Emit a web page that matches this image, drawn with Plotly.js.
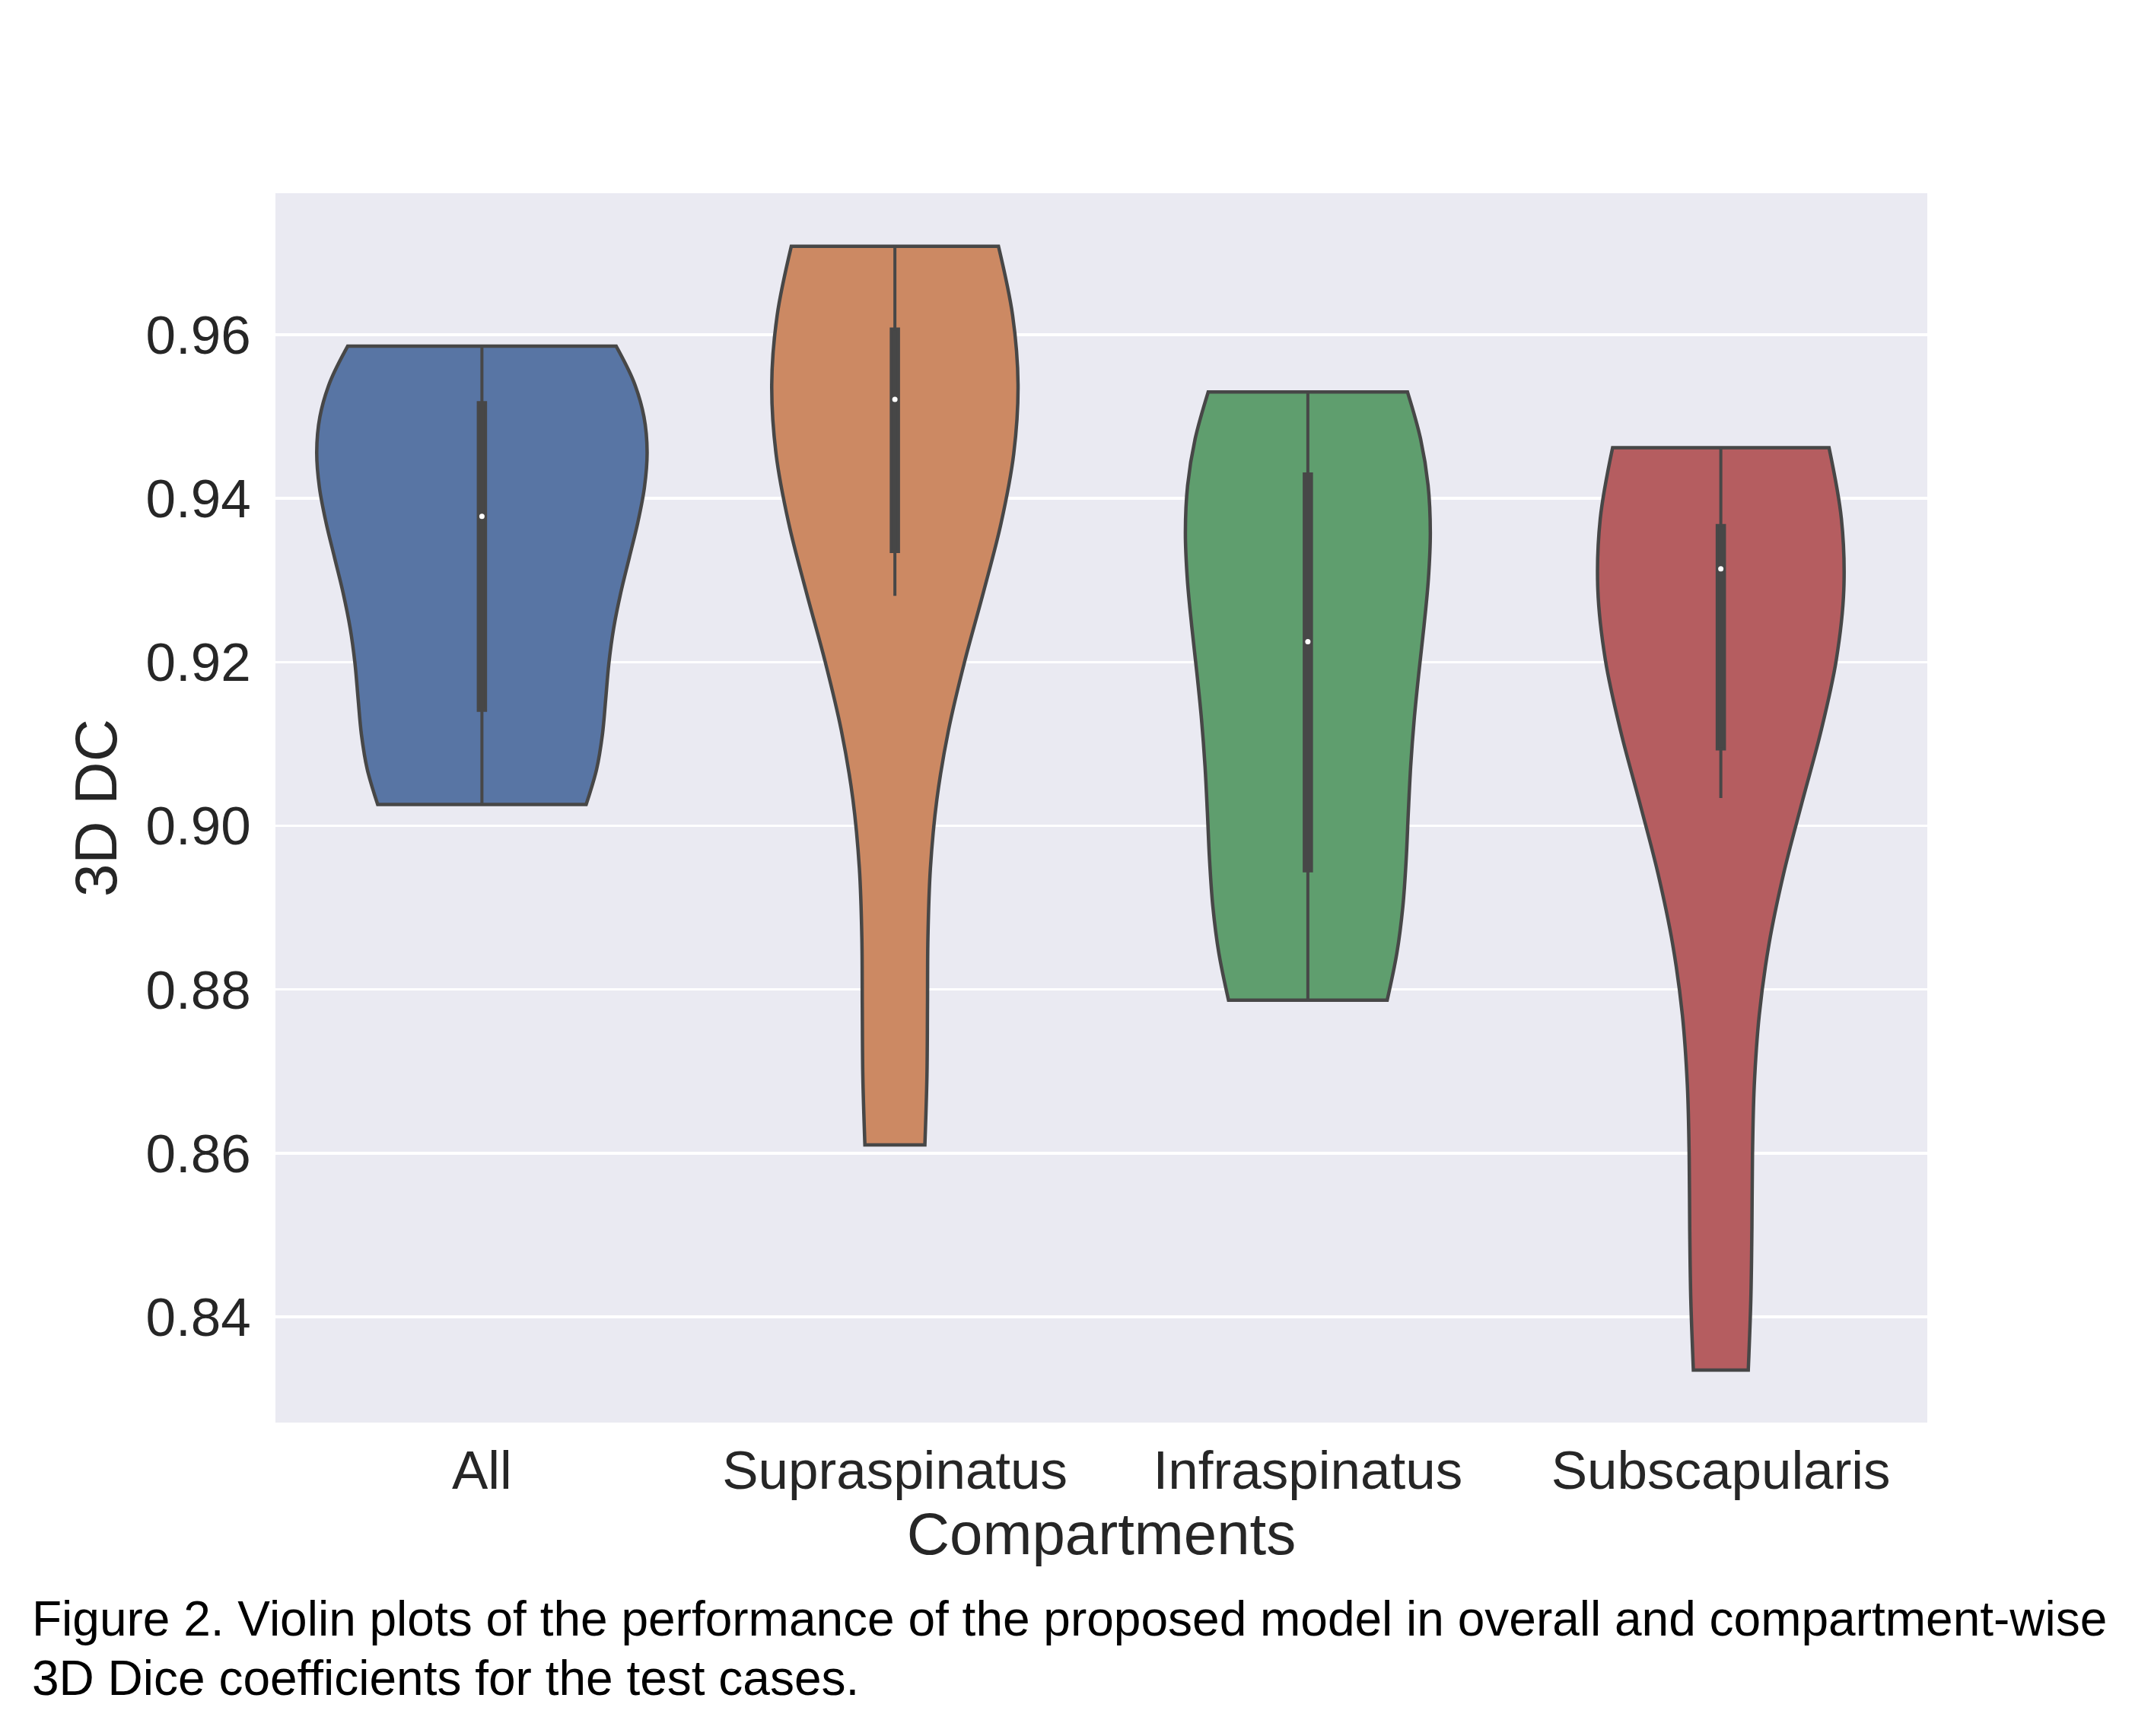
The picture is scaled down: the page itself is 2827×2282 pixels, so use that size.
<!DOCTYPE html>
<html>
<head>
<meta charset="utf-8">
<script src="https://cdn.plot.ly/plotly-3.0.1.min.js"></script>
<style>
  html, body { margin: 0; padding: 0; background: #ffffff; }
  #chart { width: 2827px; height: 2282px; }
</style>
</head>
<body>
<div id="chart"></div>
<script>
// ---- data: 3D Dice coefficient per test case (estimated from the figure) ----
const categories = ['All', 'Supraspinatus', 'Infraspinatus', 'Subscapularis'];
const allDC           = [0.9026, 0.9050, 0.9060, 0.9222, 0.9290, 0.9378, 0.9405, 0.9475, 0.9559, 0.9572, 0.9586];
const supraspinatusDC = [0.8610, 0.8740, 0.9281, 0.9389, 0.9420, 0.9521, 0.9550, 0.9580, 0.9634, 0.9670, 0.9708];
const infraspinatusDC = [0.8787, 0.8820, 0.8860, 0.9030, 0.9120, 0.9225, 0.9310, 0.9380, 0.9480, 0.9510, 0.9530];
const subscapularisDC = [0.8335, 0.8530, 0.9034, 0.9154, 0.9250, 0.9314, 0.9340, 0.9355, 0.9379, 0.9420, 0.9462];
const yTickVals = [0.84, 0.86, 0.88, 0.90, 0.92, 0.94, 0.96];
const yTickText = ['0.84', '0.86', '0.88', '0.90', '0.92', '0.94', '0.96'];

// ---- styles ----
const fills = ['#5875a4', '#cc8963', '#5f9e6e', '#b55d60'];
const bandwidths = [0.0135, 0.026, 0.018, 0.0265];   // KDE kernel widths
const gray = '#474747';
const series = [allDC, supraspinatusDC, infraspinatusDC, subscapularisDC];
const maxViolinWidth = 0.8;      // category units (seaborn default)
const boxHalfWidth = 0.0088;     // category units

function kdePeak(v, bw) {
  const lo = Math.min(...v), hi = Math.max(...v);
  let best = 0;
  for (let k = 0; k <= 600; k++) {
    const y = lo + (hi - lo) * k / 600;
    let s = 0;
    for (const x of v) s += Math.exp(-0.5 * Math.pow((y - x) / bw, 2));
    s /= v.length * bw * Math.sqrt(2 * Math.PI);
    if (s > best) best = s;
  }
  return best;
}
function median(v) {
  const s = v.slice().sort((a, b) => a - b);
  const n = s.length;
  return n % 2 ? s[(n - 1) / 2] : (s[n / 2 - 1] + s[n / 2]) / 2;
}

// area scaling (like seaborn scale='area'): width proportional to peak density
const peaks = series.map((v, i) => kdePeak(v, bandwidths[i]));
const topPeak = Math.max(...peaks);

const traces = [];
series.forEach((vals, i) => {
  const w = maxViolinWidth * peaks[i] / topPeak;
  traces.push({
    type: 'violin',
    x: vals.map(() => categories[i]),
    y: vals,
    name: categories[i],
    side: 'both',
    width: w,
    spanmode: 'hard',
    scalemode: 'width',
    bandwidth: bandwidths[i],
    points: false,
    quartilemethod: 'inclusive',
    fillcolor: fills[i],
    opacity: 1,
    line: { color: gray, width: 4.5 },
    box: { visible: true, width: boxHalfWidth / (w / 2), fillcolor: gray, line: { color: gray, width: 4 } },
    meanline: { visible: false },
    hoverinfo: 'skip',
    showlegend: false
  });
});
traces.push({
  type: 'scatter',
  mode: 'markers',
  x: categories,
  y: series.map(median),
  marker: { color: '#ffffff', size: 7, line: { width: 0 } },
  hoverinfo: 'skip',
  showlegend: false
});

const textColor = '#262626';
const fontFam = 'Arial, "Liberation Sans", Helvetica, sans-serif';
const L = 362, R = 2533, T = 254, B = 1870;
const W = 2827, H = 2282;

const layout = {
  width: W, height: H,
  paper_bgcolor: '#ffffff',
  plot_bgcolor: '#eaeaf2',
  margin: { l: L, r: W - R, t: T, b: H - B, pad: 0 },
  violinmode: 'overlay',
  showlegend: false,
  font: { family: fontFam, color: textColor, size: 71 },
  xaxis: {
    type: 'category',
    categoryorder: 'array',
    categoryarray: categories,
    range: [-0.5, 3.5],
    showgrid: false,
    zeroline: false,
    showline: false,
    ticks: 'outside',
    ticklen: 1,
    tickcolor: 'rgba(0,0,0,0)',
    tickfont: { size: 71, color: textColor },
    title: { text: 'Compartments', font: { size: 78, color: textColor }, standoff: 2 },
    automargin: false,
    fixedrange: true
  },
  yaxis: {
    range: [0.82708, 0.97729],
    tickvals: yTickVals,
    ticktext: yTickText,
    showgrid: true,
    gridcolor: '#ffffff',
    gridwidth: 3.5,
    zeroline: false,
    showline: false,
    ticks: 'outside',
    ticklen: 17,
    tickcolor: 'rgba(0,0,0,0)',
    tickfont: { size: 71, color: textColor },
    title: { text: '3D DC', font: { size: 78, color: textColor }, standoff: 12 },
    automargin: false,
    fixedrange: true
  },
  annotations: [
    {
      xref: 'paper', yref: 'paper',
      x: (40 - L) / (R - L), y: (B - 2128) / (B - T),
      xanchor: 'left', yanchor: 'middle',
      text: 'Figure 2. Violin plots of the performance of the proposed model in overall and compartment-wise',
      showarrow: false, align: 'left',
      font: { family: fontFam, size: 64, color: '#000000' }
    },
    {
      xref: 'paper', yref: 'paper',
      x: (40 - L) / (R - L), y: (B - 2206) / (B - T),
      xanchor: 'left', yanchor: 'middle',
      text: '3D Dice coefficients for the test cases.',
      showarrow: false, align: 'left',
      font: { family: fontFam, size: 64, color: '#000000' }
    }
  ]
};

Plotly.newPlot('chart', traces, layout, { staticPlot: true, displayModeBar: false });
</script>
</body>
</html>
